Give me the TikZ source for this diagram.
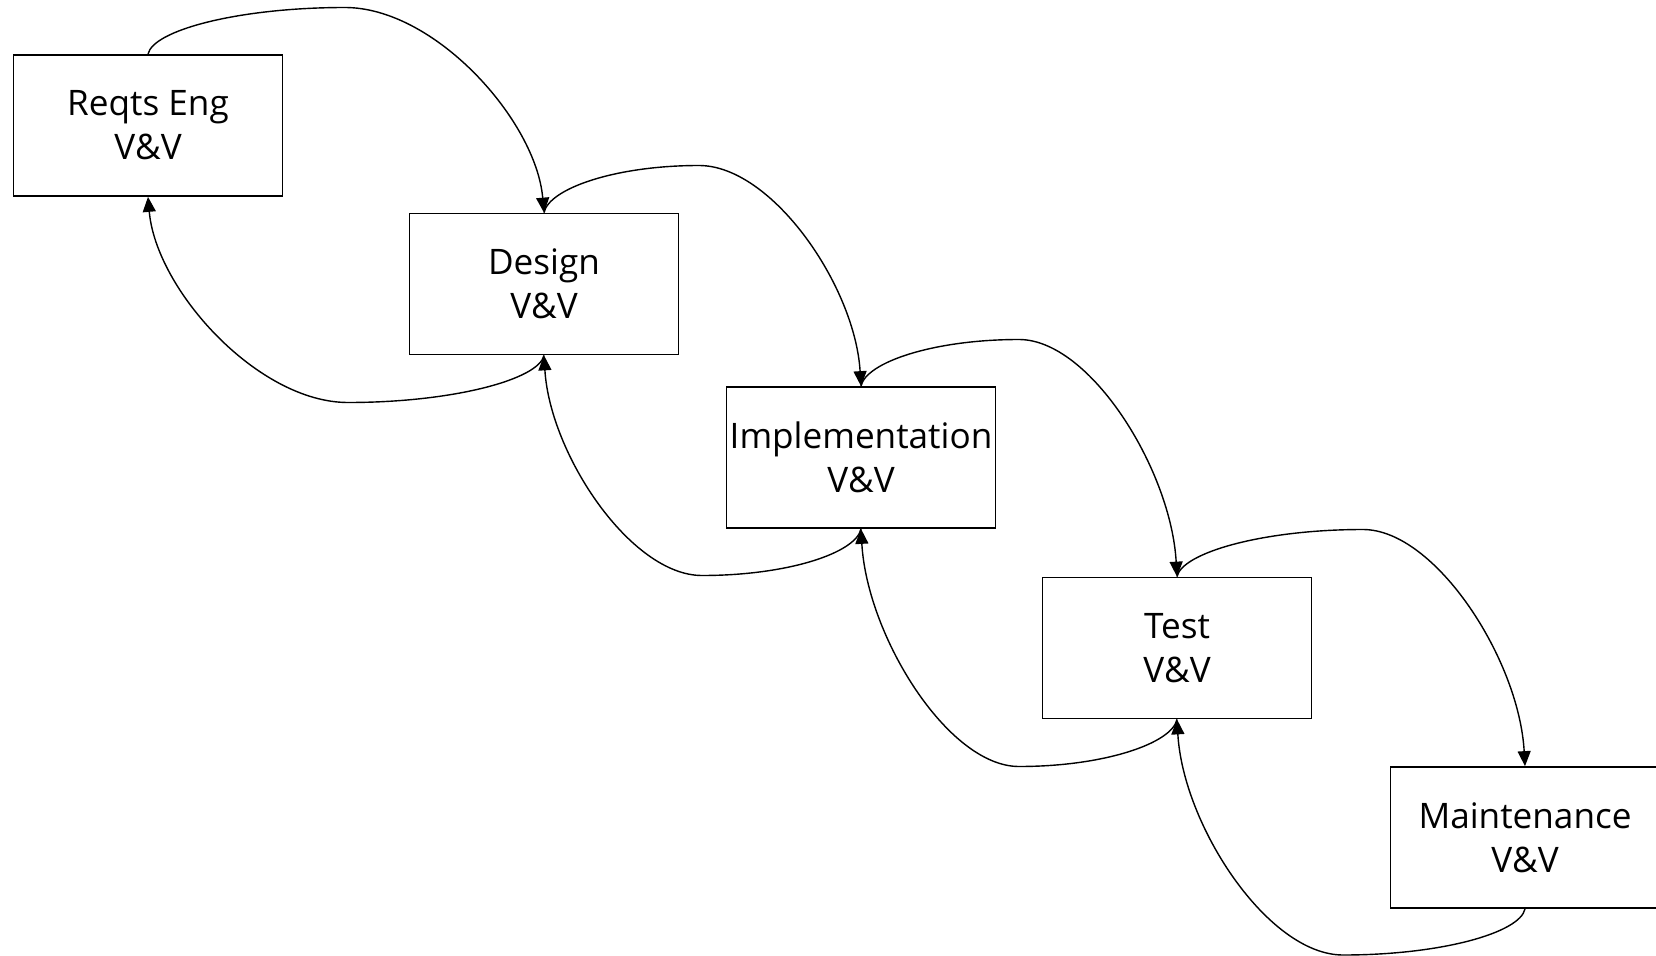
\documentclass[tikz,border=0pt]{standalone}
\usepackage{fontspec}
\setmainfont{Open Sans}
\usetikzlibrary{arrows.meta}
\begin{document}
\begin{tikzpicture}[x=0.02cm,y=-0.02cm,
  box/.style={draw, line width=1pt, minimum width=5.38cm, minimum height=2.82cm,
    inner sep=0pt, align=center, font=\fontsize{20}{25}\selectfont},
  link/.style={line width=0.8pt, -{Triangle[length=3mm,width=2.6mm]}}]
\useasboundingbox (0,0) rectangle (1656,956);
\node[box] (b1) at (148,125.5) {Reqts Eng\\V\&V};
\node[box] (b2) at (544,284) {Design\\V\&V};
\node[box] (b3) at (861,457.5) {Implementation\\V\&V};
\node[box] (b4) at (1177,648) {Test\\V\&V};
\node[box] (b5) at (1525,837.5) {Maintenance\\V\&V};
% peaks of forward loops
\coordinate (p1) at (345,7.5);
\coordinate (p2) at (699,165.5);
\coordinate (p3) at (1019,339.5);
\coordinate (p4) at (1363,529.5);
% low points of backward loops
\coordinate (l1) at (348,402.5);
\coordinate (l2) at (702,575.5);
\coordinate (l3) at (1019,766.5);
\coordinate (l4) at (1343,955);
% forward
\draw[link] (b1.north) .. controls +(5,-24) and +(-106,0) .. (p1)
  .. controls +(90,0) and +(-8,-92) .. (b2.north);
\draw[link] (b2.north) .. controls +(5,-24) and +(-84,0) .. (p2)
  .. controls +(73,0) and +(-6,-100) .. (b3.north);
\draw[link] (b3.north) .. controls +(5,-24) and +(-85,0) .. (p3)
  .. controls +(71,0) and +(-6,-107) .. (b4.north);
\draw[link] (b4.north) .. controls +(5,-24) and +(-100,0) .. (p4)
  .. controls +(72,0) and +(-6,-107) .. (b5.north);
% backward
\draw[link] (b2.south) .. controls +(-5,24) and +(105,0) .. (l1)
  .. controls +(-90,0) and +(8,93) .. (b1.south);
\draw[link] (b3.south) .. controls +(-5,24) and +(86,0) .. (l2)
  .. controls +(-71,0) and +(6,99) .. (b2.south);
\draw[link] (b4.south) .. controls +(-5,24) and +(85,0) .. (l3)
  .. controls +(-71,0) and +(6,107) .. (b3.south);
\draw[link] (b5.south) .. controls +(-5,24) and +(98,0) .. (l4)
  .. controls +(-75,0) and +(6,106) .. (b4.south);
\end{tikzpicture}
\end{document}
